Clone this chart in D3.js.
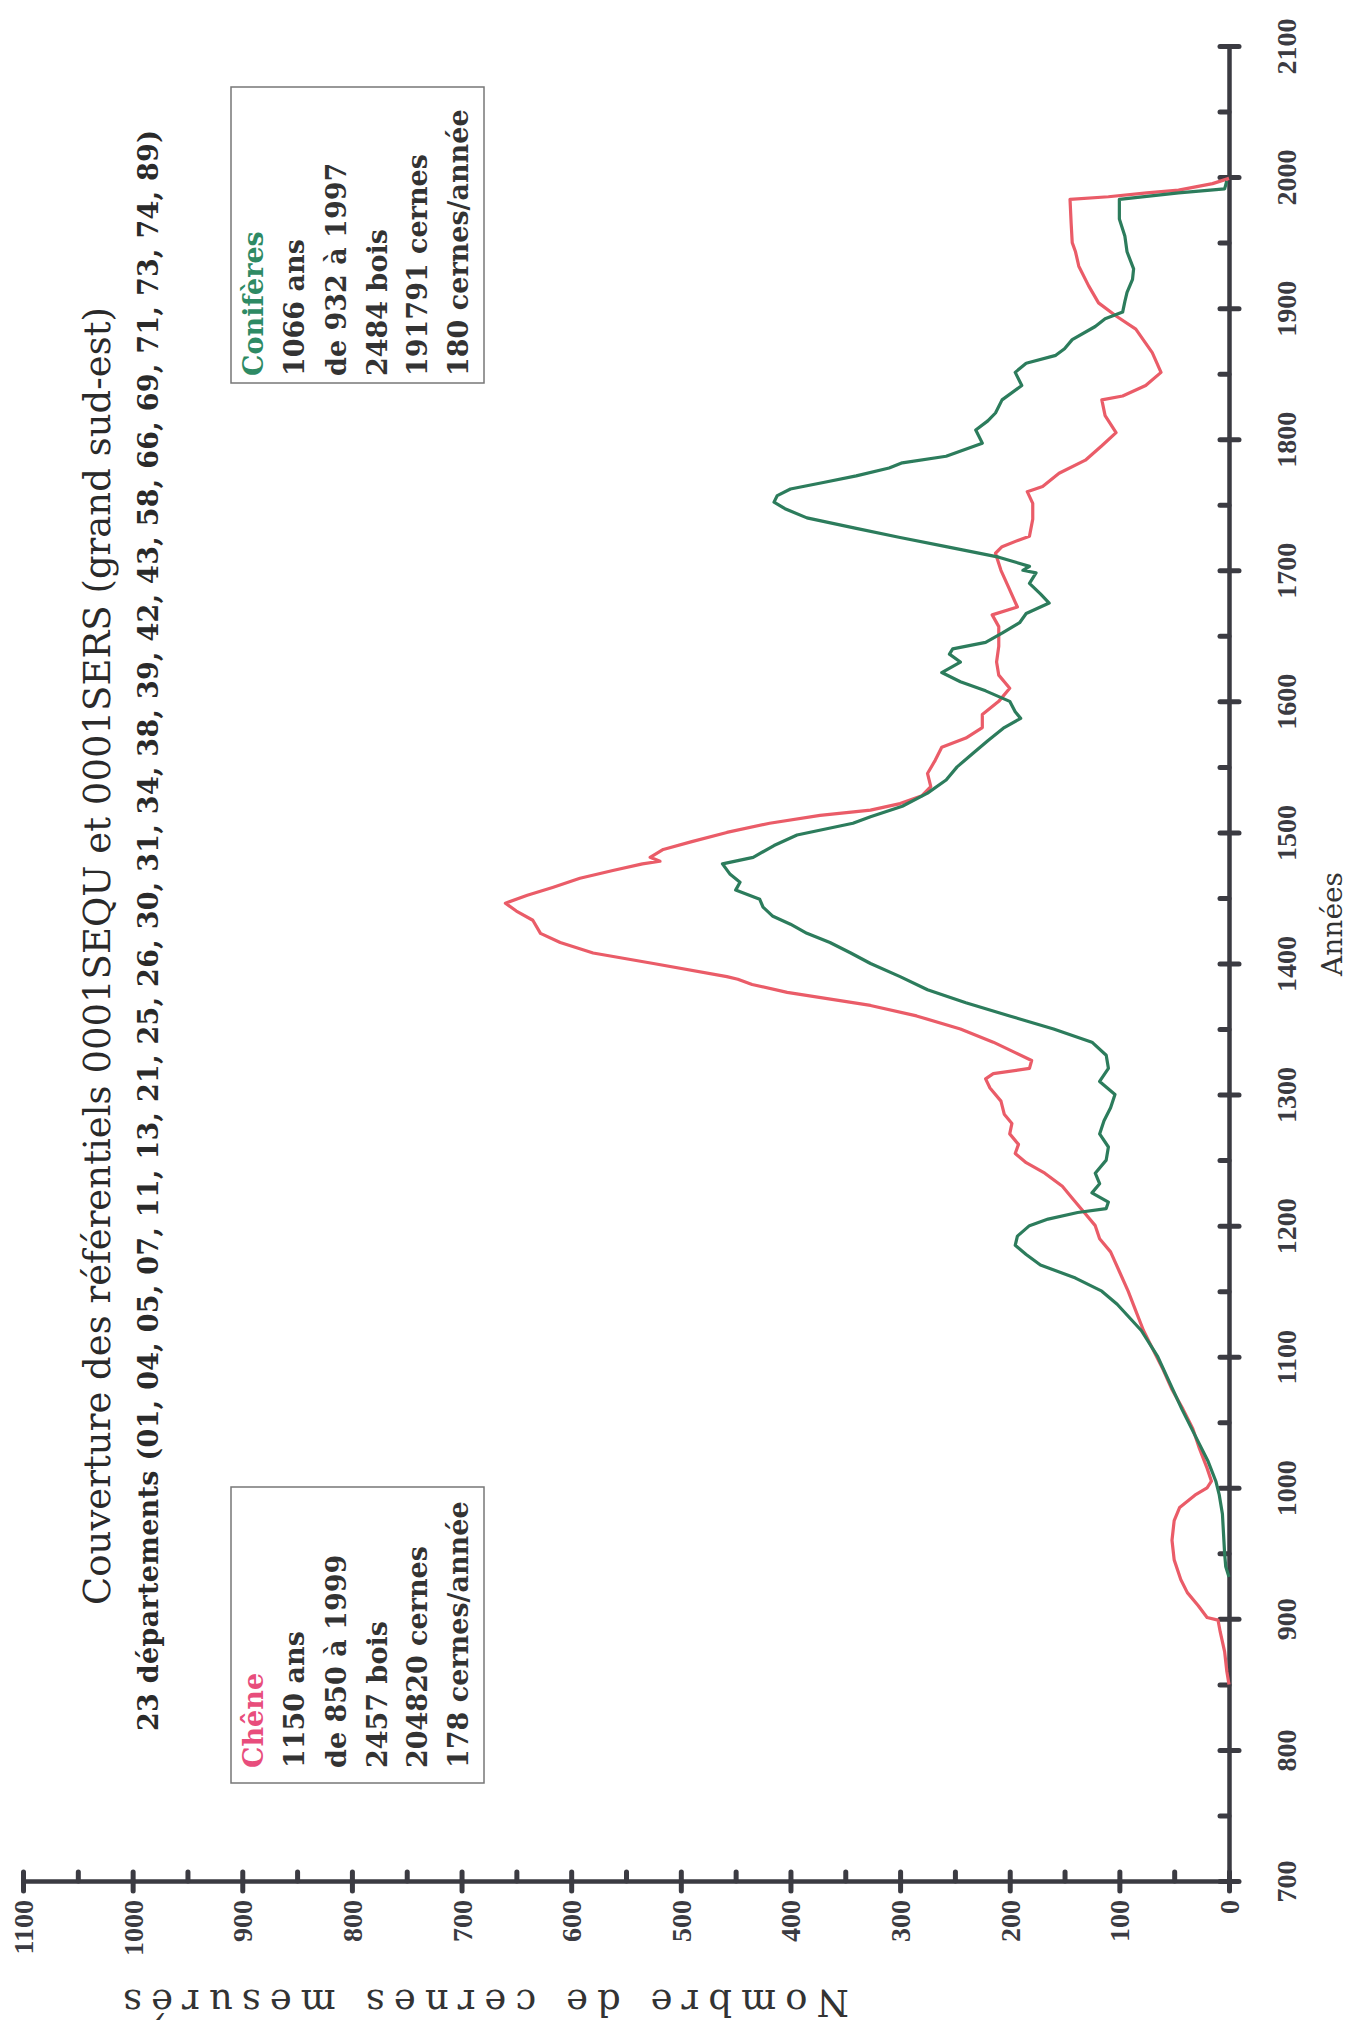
<!DOCTYPE html>
<html>
<head>
<meta charset="utf-8">
<script src="https://cdn.jsdelivr.net/npm/d3@7"></script>
<style>
  body { margin: 0; background: #fff; }
  svg { display: block; }
</style>
</head>
<body>
<svg id="chart"></svg>
<script>
// Couverture des référentiels - page tournée de 90°
// les années montent le long de l'axe vertical, le nombre de cernes va vers la gauche

var cheneYears = [850, 860, 875, 890, 899, 901, 910, 920, 930, 945, 960, 975, 985, 995, 1000, 1005, 1015, 1030, 1045, 1060, 1075, 1090, 1100, 1110, 1120, 1135, 1150, 1165, 1180, 1190, 1200, 1210, 1220, 1230, 1240, 1248, 1255, 1262, 1270, 1278, 1285, 1295, 1305, 1312, 1316, 1320, 1326, 1332, 1340, 1350, 1360, 1368, 1378, 1384, 1388, 1390, 1400, 1408, 1416, 1423, 1433, 1440, 1446, 1452, 1458, 1465, 1471, 1476, 1478, 1481, 1487, 1493, 1500, 1507, 1513, 1517, 1522, 1528, 1535, 1545, 1555, 1565, 1572, 1580, 1590, 1600, 1610, 1620, 1630, 1642, 1657, 1666, 1672, 1687, 1700, 1713, 1718, 1723, 1726, 1739, 1751, 1760, 1764, 1774, 1784, 1795, 1805, 1818, 1830, 1833, 1841, 1851, 1866, 1884, 1894, 1904, 1917, 1932, 1943, 1950, 1965, 1983, 1985, 1988, 1990, 1995, 1999];
var cheneCounts = [0, 2, 4, 8, 10, 20, 28, 38, 44, 50, 52, 50, 45, 30, 20, 16, 20, 27, 33, 42, 52, 60, 66, 72, 78, 85, 92, 100, 108, 118, 122, 132, 142, 152, 168, 185, 195, 192, 200, 198, 205, 208, 218, 222, 215, 182, 180, 195, 215, 245, 285, 327, 403, 435, 448, 458, 525, 580, 610, 628, 635, 650, 660, 640, 617, 592, 562, 535, 519, 528, 516, 490, 458, 419, 373, 327, 300, 280, 272, 275, 268, 262, 240, 225, 225, 210, 200, 210, 212, 210, 210, 216, 193, 201, 208, 213, 207, 192, 182, 179, 179, 184, 170, 155, 131, 116, 103, 113, 116, 97, 76, 62, 70, 85, 103, 119, 128, 137, 140, 143, 144, 145, 110, 75, 46, 15, 0];

var conifYears = [932, 940, 950, 965, 980, 995, 1005, 1020, 1040, 1060, 1080, 1100, 1120, 1140, 1150, 1160, 1170, 1178, 1185, 1192, 1200, 1205, 1210, 1213, 1218, 1225, 1232, 1240, 1250, 1260, 1270, 1280, 1290, 1300, 1310, 1320, 1330, 1340, 1350, 1360, 1370, 1380, 1390, 1400, 1408, 1416, 1423, 1430, 1436, 1443, 1449, 1456, 1462, 1468, 1476, 1481, 1490, 1498, 1507, 1512, 1520, 1530, 1540, 1550, 1560, 1570, 1580, 1587, 1592, 1600, 1608, 1615, 1622, 1630, 1636, 1640, 1645, 1652, 1660, 1667, 1675, 1682, 1690, 1698, 1700, 1703, 1710, 1718, 1725, 1732, 1740, 1747, 1752, 1757, 1762, 1767, 1772, 1778, 1782, 1787, 1797, 1807, 1814, 1820, 1830, 1841, 1851, 1858, 1864, 1869, 1876, 1886, 1892, 1897, 1905, 1912, 1922, 1930, 1943, 1955, 1968, 1983, 1988, 1991, 1997];
var conifCounts = [0, 3, 4, 5, 6, 9, 12, 19, 31, 43, 54, 65, 80, 102, 116, 140, 172, 185, 195, 193, 182, 165, 138, 112, 110, 125, 118, 122, 112, 110, 118, 114, 108, 104, 118, 110, 112, 125, 160, 200, 240, 275, 300, 327, 345, 364, 385, 400, 416, 425, 428, 450, 446, 455, 462, 434, 415, 394, 343, 327, 298, 275, 258, 248, 234, 220, 205, 190, 195, 200, 222, 245, 262, 245, 255, 252, 222, 207, 191, 185, 164, 172, 182, 176, 188, 182, 210, 258, 300, 340, 385, 405, 415, 412, 400, 370, 340, 310, 298, 258, 225, 231, 220, 213, 207, 189, 195, 185, 158, 150, 143, 122, 113, 97, 95, 93, 88, 87, 93, 95, 100, 100, 46, 4, 2];

var yearTicks = d3.range(700, 2101, 100);
var yearMinor = d3.range(700, 2101, 50);
var countTicks = d3.range(0, 1101, 100);
var countMinor = d3.range(0, 1101, 50);

var titre = "Couverture des référentiels 0001SEQU et 0001SERS (grand sud-est)";
var sousTitre = "23  départements (01, 04, 05, 07, 11, 13, 21, 25, 26, 30, 31, 34, 38, 39, 42, 43, 58, 66, 69, 71, 73, 74, 89)";
var cheneInfo = ["Chêne", "1150 ans", "de 850 à 1999", "2457 bois", "204820 cernes", "178 cernes/année"];
var conifInfo = ["Conifères", "1066 ans", "de 932 à 1997", "2484 bois", "191791 cernes", "180 cernes/année"];

var width = 1351, height = 2033;
var axisColor = "#3b3b42";
var red = "#ea5c68", green = "#2c7c5c";
var serif = "'DejaVu Serif', 'Liberation Serif', serif";
var tickFont = "'Liberation Serif', 'DejaVu Serif', serif";

var svg = d3.select("#chart")
    .attr("width", width)
    .attr("height", height)
    .style("font-family", serif);

var y = d3.scaleLinear().domain([700, 2100]).range([1881, 46]);
var x = d3.scaleLinear().domain([0, 1100]).range([1229, 23]);

// axe des années (à droite)
var yAxisG = svg.append("g").attr("transform", "translate(" + x(0) + ",0)");
yAxisG.append("g")
    .call(d3.axisLeft(y).tickValues(yearMinor).tickSize(9).tickFormat(""));
var yLab = yAxisG.append("g")
    .call(d3.axisRight(y).tickValues(yearTicks).tickSize(10).tickFormat(d3.format("d")));
yLab.select(".domain").remove();
yLab.selectAll(".tick text")
    .attr("x", 0)
    .attr("y", 67)
    .attr("dy", null)
    .attr("transform", "rotate(-90)")
    .style("text-anchor", "middle");

// axe du nombre de cernes (en bas)
var xAxisG = svg.append("g").attr("transform", "translate(0," + y(700) + ")");
xAxisG.append("g")
    .call(d3.axisTop(x).tickValues(countMinor).tickSize(9).tickFormat(""));
var xLab = xAxisG.append("g")
    .call(d3.axisBottom(x).tickValues(countTicks).tickSize(10).tickFormat(d3.format("d")));
xLab.select(".domain").remove();
xLab.selectAll(".tick text")
    .attr("x", -19)
    .attr("y", 0)
    .attr("dy", "0.34em")
    .attr("transform", "rotate(-90)")
    .style("text-anchor", "end");

svg.selectAll(".domain")
    .attr("stroke", axisColor)
    .attr("stroke-width", 4.5);
svg.selectAll(".tick line")
    .attr("stroke", axisColor)
    .attr("stroke-width", 5)
    .attr("stroke-linecap", "round");
svg.selectAll(".tick text")
    .attr("fill", axisColor)
    .style("font-family", tickFont)
    .style("font-size", "28px")
    .style("font-weight", "bold");

// courbes
var line = d3.line()
    .x(function(d) { return x(d[1]); })
    .y(function(d) { return y(d[0]); });

svg.append("path")
    .datum(d3.zip(cheneYears, cheneCounts))
    .attr("d", line)
    .attr("fill", "none")
    .attr("stroke", red)
    .attr("stroke-width", 3.2)
    .attr("stroke-linejoin", "round");

svg.append("path")
    .datum(d3.zip(conifYears, conifCounts))
    .attr("d", line)
    .attr("fill", "none")
    .attr("stroke", green)
    .attr("stroke-width", 3.2)
    .attr("stroke-linejoin", "round");

// titres
svg.append("text")
    .attr("transform", "translate(110,1605) rotate(-90)")
    .attr("textLength", 1298)
    .attr("lengthAdjust", "spacing")
    .attr("fill", "#2a2a2a")
    .style("font-size", "37px")
    .text(titre);

svg.append("text")
    .attr("transform", "translate(158,1731) rotate(-90)")
    .attr("textLength", 1601)
    .attr("lengthAdjust", "spacing")
    .attr("fill", "#2a2a2a")
    .style("font-size", "27px")
    .style("font-weight", "bold")
    .text(sousTitre);

// titres des axes
svg.append("text")
    .attr("transform", "translate(1342,924) rotate(-90)")
    .attr("text-anchor", "middle")
    .attr("fill", "#333")
    .style("font-size", "28px")
    .text("Années");

svg.append("text")
    .attr("transform", "translate(486,1990) rotate(180)")
    .attr("text-anchor", "middle")
    .attr("textLength", 726)
    .attr("lengthAdjust", "spacing")
    .attr("fill", "#333")
    .style("font-size", "37px")
    .text("Nombre de cernes mesurés");

// cartouches
function cartouche(lines, top, startY, titleColor) {
    svg.append("rect")
        .attr("x", 231)
        .attr("y", top)
        .attr("width", 253)
        .attr("height", 296)
        .attr("fill", "none")
        .attr("stroke", "#777")
        .attr("stroke-width", 1.5);
    var bases = [263, 304, 346, 387, 427, 468];
    lines.forEach(function(t, i) {
        svg.append("text")
            .attr("transform", "translate(" + bases[i] + "," + startY + ") rotate(-90)")
            .attr("fill", i === 0 ? titleColor : "#333")
            .style("font-size", "27px")
            .style("font-weight", "bold")
            .text(t);
    });
}

cartouche(cheneInfo, 1487, 1768, "#e84d7c");
cartouche(conifInfo, 87, 376, "#2e8a64");
</script>
</body>
</html>
